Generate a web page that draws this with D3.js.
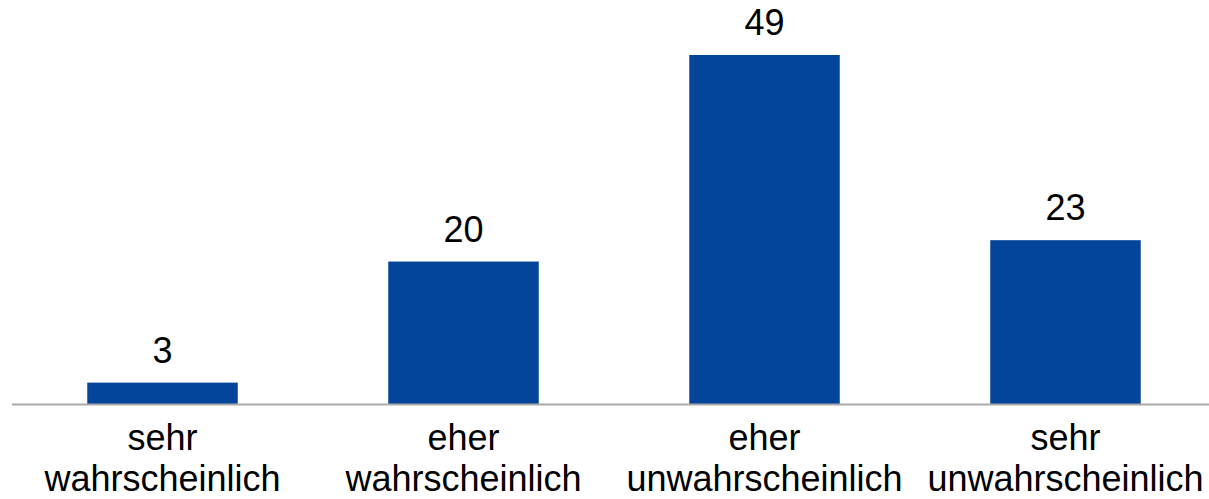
<!DOCTYPE html>
<html><head><meta charset="utf-8">
<script src="https://cdn.jsdelivr.net/npm/d3@7"></script>
<style>html,body{margin:0;padding:0;background:#fff;}svg{display:block;}</style>
</head><body>
<svg id="c" width="1209" height="499"></svg>
<script>
const categories = [["sehr","wahrscheinlich"],["eher","wahrscheinlich"],["eher","unwahrscheinlich"],["sehr","unwahrscheinlich"]];
const values = [3, 20, 49, 23];

const svg = d3.select("#c");
const baseY = 404;
const x = d3.scaleBand().domain(d3.range(categories.length)).range([12, 1216]).paddingInner(0.5).paddingOuter(0.25);
const y = d3.scaleLinear().domain([0, 49]).range([baseY, 55]);

svg.selectAll("rect.bar").data(values).enter().append("rect")
  .attr("class","bar")
  .attr("x",(d,i)=>x(i)).attr("width",x.bandwidth())
  .attr("y",d=>y(d)).attr("height",d=>baseY-y(d))
  .attr("fill","#03459a");

svg.append("line").attr("x1",12).attr("x2",1209).attr("y1",baseY+0.5).attr("y2",baseY+0.5)
  .attr("stroke","#aaaaaa").attr("stroke-width",2);

svg.selectAll("text.val").data(values).enter().append("text")
  .attr("class","val")
  .attr("x",(d,i)=>x(i)+x.bandwidth()/2).attr("y",d=>y(d)-20)
  .attr("text-anchor","middle")
  .style("font-family","Liberation Sans, Arial, sans-serif").style("font-size","36px").attr("fill","#000")
  .text(d=>d);

const lbl = svg.selectAll("text.cat").data(categories).enter().append("text")
  .attr("class","cat")
  .attr("text-anchor","middle")
  .style("font-family","Liberation Sans, Arial, sans-serif").style("font-size","36px").attr("fill","#000");
lbl.each(function(d,i){
  const t=d3.select(this);
  d.forEach((line,j)=>{
    t.append("tspan").attr("x",x(i)+x.bandwidth()/2).attr("y",450+j*41).text(line);
  });
});
</script>
</body></html>
